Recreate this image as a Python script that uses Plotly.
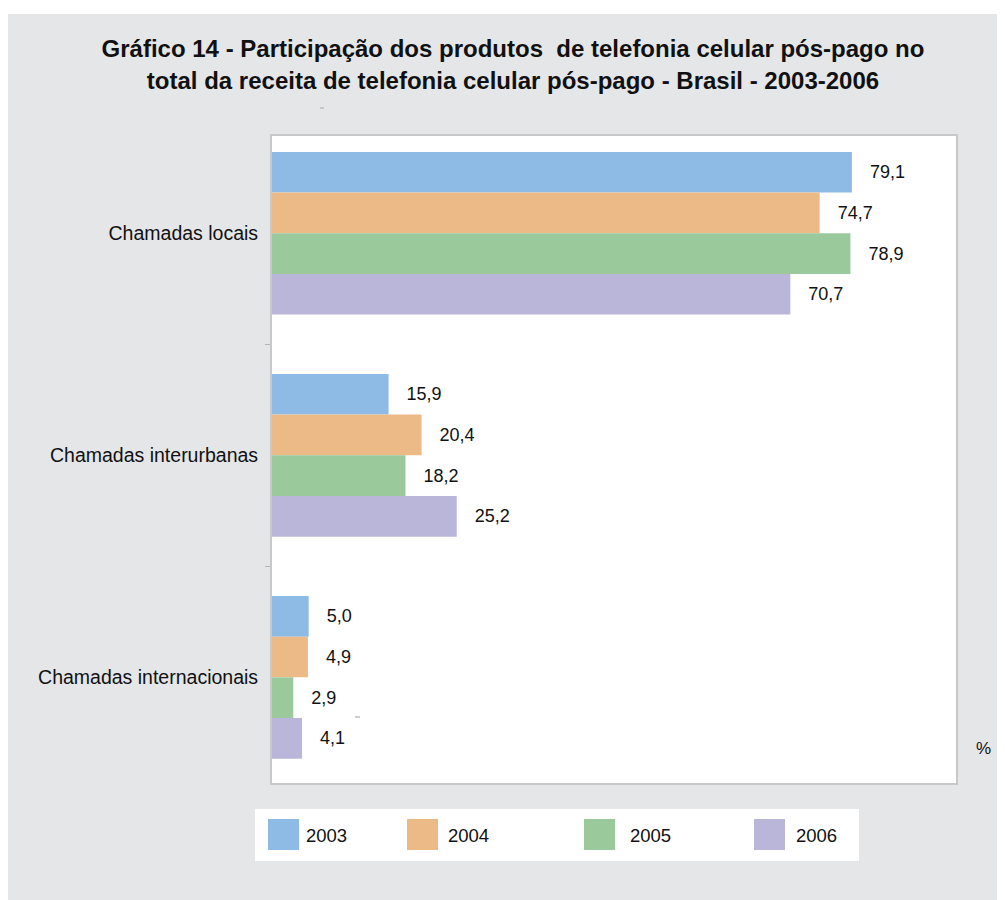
import plotly.graph_objects as go

# ---- data ----
categories = ["Chamadas locais", "Chamadas interurbanas", "Chamadas internacionais"]
years = ["2003", "2004", "2005", "2006"]
v2003 = [79.1, 15.9, 5.0]
v2004 = [74.7, 20.4, 4.9]
v2005 = [78.9, 18.2, 2.9]
v2006 = [70.7, 25.2, 4.1]
series = [v2003, v2004, v2005, v2006]
unit_label = "%"
title_line1 = "Gráfico 14 - Participação dos produtos  de telefonia celular pós-pago no"
title_line2 = "total da receita de telefonia celular pós-pago - Brasil - 2003-2006"

# ---- styles / layout ----
colors = ["#8DBBE5", "#EBBA87", "#9AC99C", "#BAB6DA"]
FONT = "Liberation Sans, Arial, Helvetica, sans-serif"
BG = "#E5E6E8"
OFF = 8                      # page body margin
W_FIG, H_FIG = 1005, 900 - OFF
# plot-area box in page pixels
L_P, R_P, T_P, B_P = 272, 956, 136, 783
L, R, T, B = L_P - OFF, R_P - OFF, T_P - OFF, B_P - OFF
PW, PH = R - L, B - T

def px(x):  # page pixel x -> paper
    return (x - OFF - L) / PW

def py(y):  # page pixel y -> paper
    return (B - (y - OFF)) / PH

def fmt(v):
    return "\u00a0\u00a0\u00a0" + f"{v:.1f}".replace(".", ",")

fig = go.Figure()
for yr, vals, col in zip(years, series, colors):
    fig.add_trace(go.Bar(
        y=categories, x=vals, name=yr, orientation="h",
        marker=dict(color=col, line=dict(width=0)),
        text=[fmt(v) for v in vals], textposition="outside",
        textfont=dict(family=FONT, size=18, color="#111111"),
        constraintext="none", cliponaxis=False, showlegend=False,
        hoverinfo="skip",
    ))

shapes = []
# white strip above the grey panel
shapes.append(dict(type="rect", xref="paper", yref="paper", x0=px(0), x1=px(1020), y0=py(14), y1=py(0),
                   fillcolor="white", line=dict(width=0), layer="below"))
# legend box
shapes.append(dict(type="rect", xref="paper", yref="paper", x0=px(255), x1=px(859), y0=py(861), y1=py(809),
                   fillcolor="white", line=dict(width=0), layer="below"))
leg_sw_x = [268, 407, 584, 754]
leg_tx_x = [304, 446, 628, 794]
annotations = []
for yr, col, sx, tx in zip(years, colors, leg_sw_x, leg_tx_x):
    shapes.append(dict(type="rect", xref="paper", yref="paper", x0=px(sx), x1=px(sx + 31), y0=py(850), y1=py(819),
                       fillcolor=col, line=dict(width=0)))
    annotations.append(dict(xref="paper", yref="paper", x=px(tx), y=py(835), text=yr, showarrow=False,
                            xanchor="left", yanchor="middle", font=dict(family=FONT, size=18.5, color="#111111")))
# small stray marks present in the source image
shapes.append(dict(type="line", xref="paper", yref="paper", x0=px(320), x1=px(324), y0=py(108), y1=py(108),
                   line=dict(color="#BDBDBD", width=1.5)))
shapes.append(dict(type="line", xref="paper", yref="paper", x0=px(355), x1=px(360), y0=py(717), y1=py(717),
                   line=dict(color="#BDBDBD", width=1.5)))

annotations.append(dict(xref="paper", yref="paper", x=px(983), y=py(748), text=unit_label, showarrow=False,
                        xanchor="center", yanchor="middle", font=dict(family=FONT, size=17, color="#111111")))

fig.update_layout(
    width=W_FIG, height=H_FIG,
    margin=dict(l=L, r=W_FIG - R, t=T, b=H_FIG - B, pad=0),
    paper_bgcolor=BG, plot_bgcolor="white",
    barmode="group", bargap=0.267, bargroupgap=0,
    title=dict(text="<b>" + title_line1 + "<br>" + title_line2 + "</b>",
               x=(513 - OFF) / W_FIG, xanchor="center", xref="container",
               y=1 - (57 - OFF) / (900 - 2 * OFF), yanchor="top", yref="container",
               font=dict(family=FONT, size=24, color="#111111")),
    xaxis=dict(range=[0, 93.3], showticklabels=False, showgrid=False, zeroline=False,
               showline=True, mirror=True, linecolor="#C8C8C8", linewidth=2, ticks=""),
    yaxis=dict(type="category", categoryorder="array", categoryarray=categories,
               range=[2.476, -0.438], showgrid=False, zeroline=False,
               showline=True, mirror=True, linecolor="#C8C8C8", linewidth=2,
               ticks="outside", tickson="boundaries", ticklen=5, tickcolor="#B4B4B4", tickwidth=1,
               ticklabelstandoff=8,
               tickfont=dict(family=FONT, size=19.5, color="#111111")),
    shapes=shapes, annotations=annotations,
)

fig.write_html(
    "out.html",
    post_script="document.documentElement.style.overflow='hidden';document.body.style.overflow='hidden';",
)
